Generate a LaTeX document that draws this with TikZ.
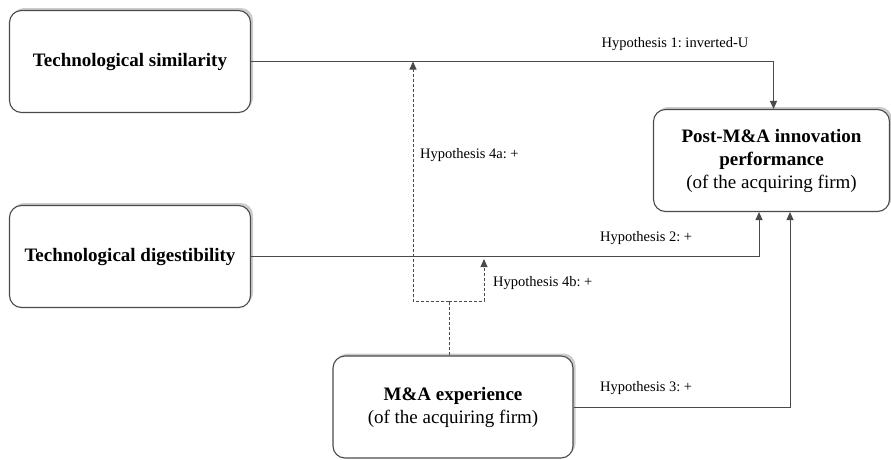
\documentclass[tikz,border=0pt]{standalone}
\usepackage{fontspec}
\setmainfont{Liberation Serif}
\usetikzlibrary{arrows.meta,positioning,calc,shadows}
\definecolor{EdgeGray}{HTML}{4A4A4A}
\frenchspacing

\begin{document}
\begin{tikzpicture}[x=1pt,y=-1pt,>={Triangle[length=8pt,width=7pt]},
  box/.style={draw=EdgeGray,line width=1.1pt,rounded corners=12pt,fill=white,align=center,
    minimum width=241pt,minimum height=102pt,font=\fontsize{19}{23}\selectfont,
    drop shadow={shadow xshift=2.5pt,shadow yshift=2.5pt,opacity=0.4}},
  hyp/.style={font=\fontsize{14.5}{17}\selectfont,inner sep=0pt},
  link/.style={->,draw=EdgeGray,line width=1pt},
  moder/.style={draw=EdgeGray,line width=0.9pt,dash pattern=on 3pt off 2pt}]
  \useasboundingbox (0,0) rectangle (891,459);
  \node[box] (sim) at (130,61.5) {\textbf{Technological similarity}};
  \node[box] (dig) at (130,256.5) {\textbf{Technological digestibility}};
  \node[box,minimum width=236pt] (post) at (771.5,160.5) {\textbf{Post-M\&A innovation}\\\textbf{performance}\\(of the acquiring firm)};
  \node[box,minimum width=240pt] (exp) at (453,407) {\textbf{M\&A experience}\\(of the acquiring firm)};
  % main effects
  \draw[link] (sim.east) -| ([xshift=2pt]post.north);
  \draw[link] (dig.east) -| ([xshift=-12.5pt]post.south);
  \draw[link] (exp.east) -| ([xshift=18.5pt]post.south);
  % moderation
  \coordinate (split) at (449,301);
  \coordinate (m4a) at (413,61.5);
  \coordinate (m4b) at (484,259);
  \draw[moder] (exp.north -| split) -- (split);
  \draw[moder,->] (split) -| (m4a);
  \draw[moder,->] (split) -| (m4b);
  \node[hyp] (h1) at (675,44) {Hypothesis 1: inverted-U};
  \node[hyp,anchor=west] (h4a) at (420,155) {Hypothesis 4a: +};
  \node[hyp,anchor=west] (h2) at (600,238) {Hypothesis 2: +};
  \node[hyp,anchor=west] (h4b) at (493,283) {Hypothesis 4b: +};
  \node[hyp,anchor=west] (h3) at (600,388) {Hypothesis 3: +};
\end{tikzpicture}
\end{document}
